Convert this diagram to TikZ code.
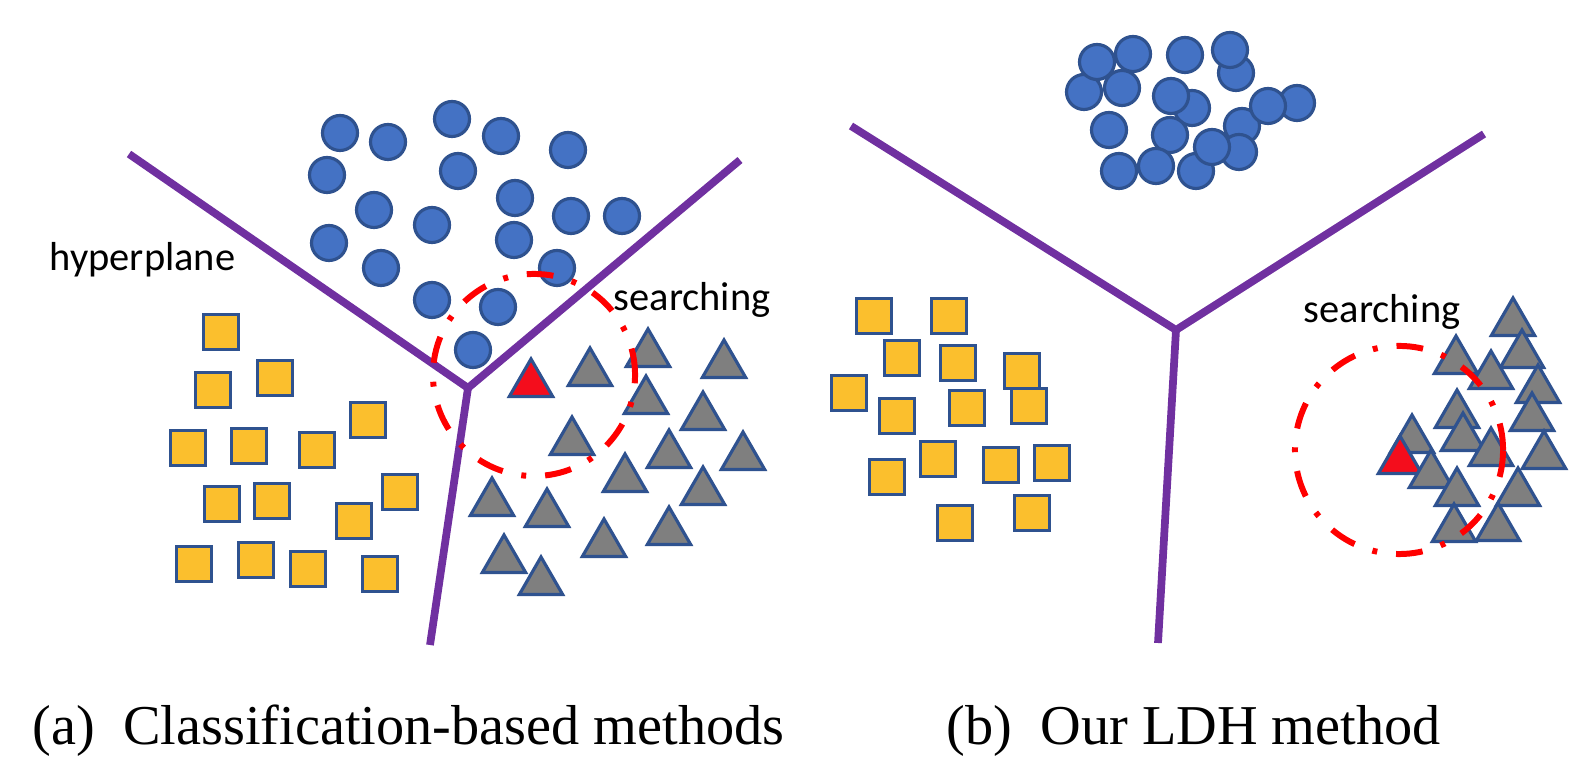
\documentclass[tikz,border=0pt]{standalone}
\usepackage{fontspec}
\setmainfont{Liberation Serif}
\newfontfamily\calfont{Carlito}
\usetikzlibrary{shapes.geometric}

\definecolor{ptblue}{HTML}{4472C4}
\definecolor{ptedge}{HTML}{2F528F}
\definecolor{ptgold}{HTML}{FBBF2D}
\definecolor{ptgray}{HTML}{7F7F7F}
\definecolor{ptred}{HTML}{F40D1C}
\definecolor{ptpurple}{HTML}{7030A0}

\begin{document}
\begin{tikzpicture}[
    x=0.01cm, y=-0.01cm,
    dot/.style = {circle, draw=ptedge, fill=ptblue, line width=0.9pt, minimum size=0.35cm, inner sep=0pt},
    box/.style = {rectangle, draw=ptedge, fill=ptgold, line width=0.9pt, minimum size=0.35cm, inner sep=0pt},
    tri/.style = {regular polygon, regular polygon sides=3, draw=ptedge, fill=ptgray, line width=0.9pt, minimum size=0.5cm, inner sep=0pt},
    query/.style = {tri, fill=ptred},
    ring/.style = {circle, draw=red, line width=1.7pt, dash pattern=on 7.6pt off 5.4pt on 1.4pt off 5.4pt, inner sep=0pt},
    plane/.style = {draw=ptpurple, line width=2.2pt},
    tag/.style = {font=\calfont\fontsize{11.5}{14}\selectfont, inner sep=0pt, anchor=base west},
    subcap/.style = {font=\fontsize{16}{19}\selectfont, inner sep=0pt, anchor=base west}
]
    \useasboundingbox (0,0) rectangle (1582,774);

    % (a) classification-based
    \coordinate (la) at (129,154);
    \coordinate (ja) at (468,388);
    \coordinate (ra) at (740,160);
    \coordinate (ba) at (430,645);
    \draw[plane] (la) -- (ja) -- (ra);
    \draw[plane] (ja) -- (ba);

    \foreach \x/\y [count=\i] in {340/133, 388/142, 452/119, 501/136, 568/150, 327/175, 458/171, 374/210, 515/198, 571/216, 622/216, 329/243, 432/225, 514/240, 557/268, 381/268, 432/300, 498/307, 473/350}
        \node[dot] (ca\i) at (\x,\y) {};
    \foreach \x/\y [count=\i] in {221/332, 213/390, 275/378, 368/420, 188/448, 249/446, 317/450, 400/492, 222/504, 272/501, 354/521, 194/564, 256/560, 308/569, 380/574}
        \node[box] (sa\i) at (\x,\y) {};
    \foreach \x/\y [count=\i] in {590/373, 648/354, 724/365, 646/401, 703/417, 572/442, 669/455, 743/457, 625/479, 703/492, 492/503, 547/514, 604/544, 669/532, 504/560, 541/582}
        \node[tri] (ta\i) at (\x,\y) {};
    \node[query] (qa) at (531,384) {};
    \node[ring, minimum size=2.02cm] (rga) at (534,375) {};

    \node[tag] (hyp) at (49,271) {hyperplane};
    \node[tag] (sea) at (613,311) {searching};

    % (b) LDH
    \coordinate (lb) at (851,126);
    \coordinate (jb) at (1176,330);
    \coordinate (rb) at (1484,134);
    \coordinate (bb) at (1158,643);
    \draw[plane] (lb) -- (jb) -- (rb);
    \draw[plane] (jb) -- (bb);

    \foreach \x/\y [count=\i] in {1084/92, 1097/62, 1133/54, 1122/88, 1185/55, 1192/108, 1171/96, 1109/130, 1170/135, 1119/171, 1156/166, 1236/73, 1230/50, 1297/103, 1242/126, 1268/106, 1239/152, 1196/171, 1212/147}
        \node[dot] (cb\i) at (\x,\y) {};
    \foreach \x/\y [count=\i] in {874/316, 949/316, 902/358, 958/363, 1022/371, 849/393, 897/416, 967/408, 1029/406, 938/459, 1001/465, 1052/463, 887/477, 955/523, 1032/513}
        \node[box] (sb\i) at (\x,\y) {};
    \foreach \x/\y [count=\i] in {1513/323, 1522/355, 1456/361, 1491/376, 1538/390, 1457/415, 1532/418, 1463/438, 1412/440, 1491/453, 1544/456}
        \node[tri] (tb\i) at (\x,\y) {};
    \node[query] (qb) at (1400,461) {};
    \foreach \x/\y [count=\i] in {1431/475, 1457/493, 1518/493, 1498/528, 1454/529}
        \node[tri] (ub\i) at (\x,\y) {};
    \node[ring, minimum size=2.08cm] (rgb) at (1399,450) {};

    \node[tag] (seb) at (1303,323) {searching};

    % captions
    \node[subcap] (capa) at (32,745) {(a)\hspace{0.5em}Classification-based methods};
    \node[subcap] (capb) at (946,745) {(b)\hspace{0.5em}Our LDH method};
\end{tikzpicture}
\end{document}
